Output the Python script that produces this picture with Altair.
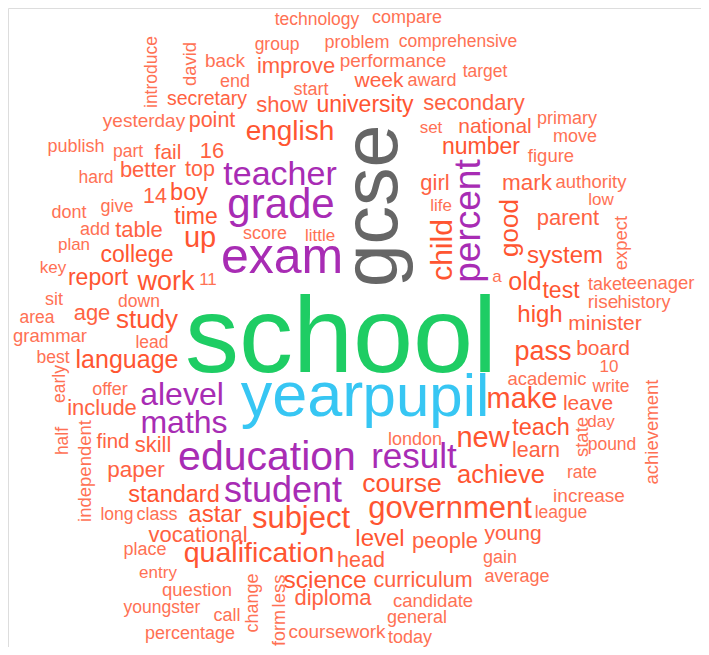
import altair as alt
import pandas as pd

# ---- word frequencies (relative weights read from the cloud) ----
flat_words = [
    "technology", "compare", "group", "problem", "comprehensive", "back", "end", "improve",
    "performance", "start", "week", "award", "target", "secretary", "yesterday", "point",
    "show", "university", "secondary", "english", "publish", "part", "fail", "16",
    "national", "set", "primary", "move", "number", "figure", "hard", "better", "top",
    "teacher", "girl", "mark", "authority", "14", "boy", "grade", "life", "low", "dont",
    "give", "time", "parent", "add", "table", "up", "score", "little", "system", "plan",
    "college", "exam", "a", "key", "report", "work", "11", "old", "test", "take",
    "teenager", "rise", "history", "sit", "down", "high", "area", "age", "study",
    "minister", "grammar", "school", "lead", "pass", "board", "best", "language", "10",
    "offer", "alevel", "year", "pupil", "academic", "write", "include", "maths", "make",
    "leave", "find", "skill", "education", "result", "london", "new", "teach", "learn",
    "day", "pound", "paper", "achieve", "rate", "standard", "student", "course",
    "increase", "long", "class", "astar", "subject", "government", "league",
    "vocational", "level", "people", "young", "place", "qualification", "head", "entry",
    "science", "curriculum", "gain", "question", "average", "diploma", "youngster",
    "call", "candidate", "general", "percentage", "coursework", "today",
]
up_words = [
    "gcse", "percent", "child", "good", "introduce", "david", "early", "half",
    "independent", "change", "form", "less", "state", "achievement", "expect",
]

flat_freq = [
    17.5, 18, 17.5, 18, 17.5, 19, 18, 22,
    19, 18, 21, 18, 17.5, 19.5, 19, 21.5,
    22, 23, 22, 28, 18, 17.5, 21, 22,
    21, 17, 18, 18, 23, 18.5, 17.5, 22, 21.5,
    34, 22, 22.5, 18.5, 21.5, 23.5, 42, 17, 17, 18,
    18, 23, 22, 18, 22, 29, 18, 17, 24, 17,
    23, 50, 17, 17, 23, 27, 17, 25, 23, 18,
    18.5, 19, 18, 18, 17.5, 24, 17.5, 22, 26,
    21, 18.5, 108, 17.5, 27, 21, 17.5, 25, 17,
    18, 32, 63, 60, 18.5, 17.5, 22, 32, 29,
    21, 20.5, 22, 41, 35, 18, 29, 23.5, 21.5,
    17, 17.5, 22.5, 25.5, 17.5, 23.5, 36, 26.5,
    19, 17.5, 18, 24, 31, 31, 17.5,
    22, 24, 22, 21, 18, 28.5, 21.5, 17,
    24.5, 21.5, 18, 18.5, 18, 22, 17.5,
    18, 18.5, 18, 18, 19, 18,
]
up_freq = [
    77, 37, 30, 26, 17.5, 18.5, 17.5, 17.5,
    18.5, 18, 18, 18.5, 18.5, 18.5, 18.5,
]

# ---- cloud layout (word anchor in the cloud's own coordinate frame) ----
flat_x = [
    317, 407, 277, 357, 458, 225, 235, 296,
    393, 311, 379, 432, 485, 207, 144, 212,
    282, 365, 474, 290, 76, 128, 168, 212,
    495, 431, 567, 575, 481, 551, 96, 148, 200,
    280, 435, 527, 591, 155, 189, 281, 441, 601, 69,
    117, 196, 568, 95, 139, 200, 265, 320, 565, 74,
    137, 282, 497, 53, 98, 166, 208, 525, 561, 605,
    658, 603, 644, 54, 139, 540, 37, 92, 147,
    605, 50, 341, 152, 543, 603, 53, 127, 609,
    110, 182, 302, 426, 547, 611, 102, 184, 522,
    588, 113, 153, 267, 414, 415, 483, 541, 536,
    601, 612, 136, 501, 582, 174, 283, 402,
    589, 117, 157, 215, 301, 450, 561,
    198, 380, 445, 513, 145, 259, 361, 158,
    325, 423, 500, 197, 517, 333, 162,
    227, 433, 417, 190, 337, 410,
]
flat_y = [
    25, 23, 50, 48, 47, 67, 87, 73,
    67, 95, 87, 86, 77, 105, 127, 127,
    112, 112, 110, 140, 152, 157, 159, 158,
    133, 133, 124, 142, 154, 162, 183, 177, 176,
    185, 190, 190, 188, 203, 200, 218, 211, 205, 218,
    212, 224, 225, 235, 237, 247, 239, 241, 263, 250,
    262, 273, 282, 273, 285, 290, 285, 290, 298, 290,
    289, 308, 308, 305, 307, 322, 323, 320, 328,
    330, 342, 372, 348, 360, 355, 363, 368, 372,
    395, 405, 416, 416, 385, 392, 415, 433, 408,
    410, 448, 452, 470, 468, 445, 447, 435, 457,
    427, 450, 477, 483, 478, 502, 502, 492,
    502, 520, 520, 522, 528, 518, 518,
    542, 546, 548, 540, 555, 562, 567, 578,
    588, 587, 563, 596, 582, 605, 613,
    621, 607, 623, 639, 638, 643,
]
up_x = [397, 480, 452, 518, 157, 196, 65, 67.5, 90.5, 258, 285, 285, 588, 658, 627]
up_y = [206, 221, 250, 228, 72, 64, 384, 441, 471, 603, 628, 591, 437, 432, 243]

df = pd.concat([
    pd.DataFrame({"word": flat_words, "freq": flat_freq, "x": flat_x, "y": flat_y, "orient": "flat"}),
    pd.DataFrame({"word": up_words, "freq": up_freq, "x": up_x, "y": up_y, "orient": "up"}),
], ignore_index=True)

color_scale = alt.Scale(
    type="threshold",
    domain=[19.5, 23, 31.5, 55, 70, 100],
    range=["#FF7154", "#FF6242", "#FF5531", "#A82CB4", "#37C6F3", "#666666", "#1ECD64"],
)

enc = dict(
    x=alt.X("x:Q", scale=alt.Scale(domain=[8, 701], nice=False, zero=False), axis=None),
    y=alt.Y("y:Q", scale=alt.Scale(domain=[8, 647], nice=False, zero=False, reverse=True), axis=None),
    text="word:N",
    size=alt.Size("freq:Q", scale=None, legend=None),
    color=alt.Color("freq:Q", scale=color_scale, legend=None),
)

base = alt.Chart(df)
flat = (
    base.transform_filter(alt.datum.orient == "flat")
    .mark_text(align="center", baseline="alphabetic", font="Liberation Sans")
    .encode(**enc)
)
up = (
    base.transform_filter(alt.datum.orient == "up")
    .mark_text(align="center", baseline="alphabetic", font="Liberation Sans", angle=270)
    .encode(**enc)
)

chart = (
    alt.layer(flat, up)
    .properties(width=693, height=639, padding=0, autosize=alt.AutoSizeParams(type="none"))
    .configure_view(stroke="transparent", strokeWidth=0)
    .configure(background="white")
)

chart.save("out.html", embed_options={"renderer": "svg", "actions": False})
